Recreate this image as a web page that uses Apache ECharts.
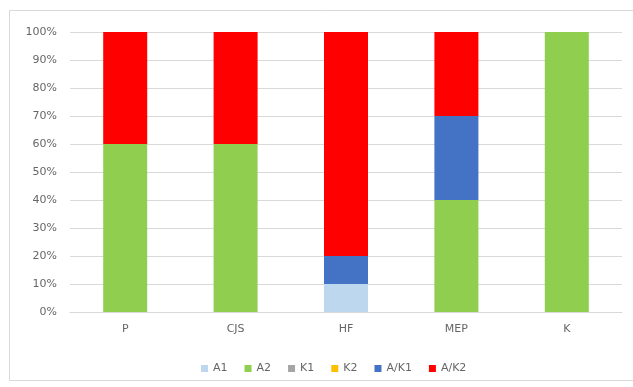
<!DOCTYPE html>
<html>
<head>
<meta charset="utf-8">
<script src="https://cdn.jsdelivr.net/npm/echarts@6/dist/echarts.min.js"></script>
<style>
html,body{margin:0;padding:0;background:#fff;}
#chart{width:633px;height:387px;}
</style>
</head>
<body>
<div id="chart"></div>
<script>
// Categories along the x axis
var categories = ['P', 'CJS', 'HF', 'MEP', 'K'];
// Percent share per group, stacked bottom to top
var seriesNames = ['A1', 'A2', 'K1', 'K2', 'A/K1', 'A/K2'];
var a1   = [0, 0, 10, 0, 0];
var a2   = [60, 60, 0, 40, 100];
var k1   = [0, 0, 0, 0, 0];
var k2   = [0, 0, 0, 0, 0];
var ak1  = [0, 0, 10, 30, 0];
var ak2  = [40, 40, 80, 30, 0];
var colors = ['#bdd7ee', '#8fce4f', '#a5a5a5', '#ffc000', '#4472c4', '#ff0000'];
var valueSets = [a1, a2, k1, k2, ak1, ak2];

var chart = echarts.init(document.getElementById('chart'), null, {renderer: 'canvas'});
var font = '"DejaVu Sans", Verdana, sans-serif';
var textColor = '#666666';

var series = seriesNames.map(function (name, i) {
  return {
    name: name,
    type: 'bar',
    stack: 'total',
    barWidth: 44,
    itemStyle: {color: colors[i]},
    data: valueSets[i]
  };
});

chart.setOption({
  animation: false,
  backgroundColor: '#ffffff',
  graphic: [{
    type: 'rect',
    shape: {x: 9.5, y: 10.5, width: 624, height: 370},
    style: {fill: 'none', stroke: '#d9d9d9', lineWidth: 1},
    silent: true
  }],
  grid: {left: 70, right: 11, top: 32, bottom: 75},
  legend: {
    top: 358,
    left: 196,
    itemWidth: 7,
    itemHeight: 7,
    itemGap: 17,
    icon: 'rect',
    textStyle: {color: textColor, fontSize: 11, fontFamily: font},
    data: seriesNames
  },
  xAxis: {
    type: 'category',
    data: categories,
    axisLine: {lineStyle: {color: '#d9d9d9'}},
    axisTick: {show: false},
    axisLabel: {color: textColor, fontSize: 11, fontFamily: font, margin: 12}
  },
  yAxis: {
    type: 'value',
    min: 0,
    max: 100,
    interval: 10,
    axisLine: {show: false},
    axisTick: {show: false},
    splitLine: {lineStyle: {color: '#d9d9d9'}},
    axisLabel: {color: textColor, fontSize: 11, fontFamily: font, margin: 13,
      formatter: function (v) { return v + '%'; }}
  },
  series: series
});
</script>
</body>
</html>
